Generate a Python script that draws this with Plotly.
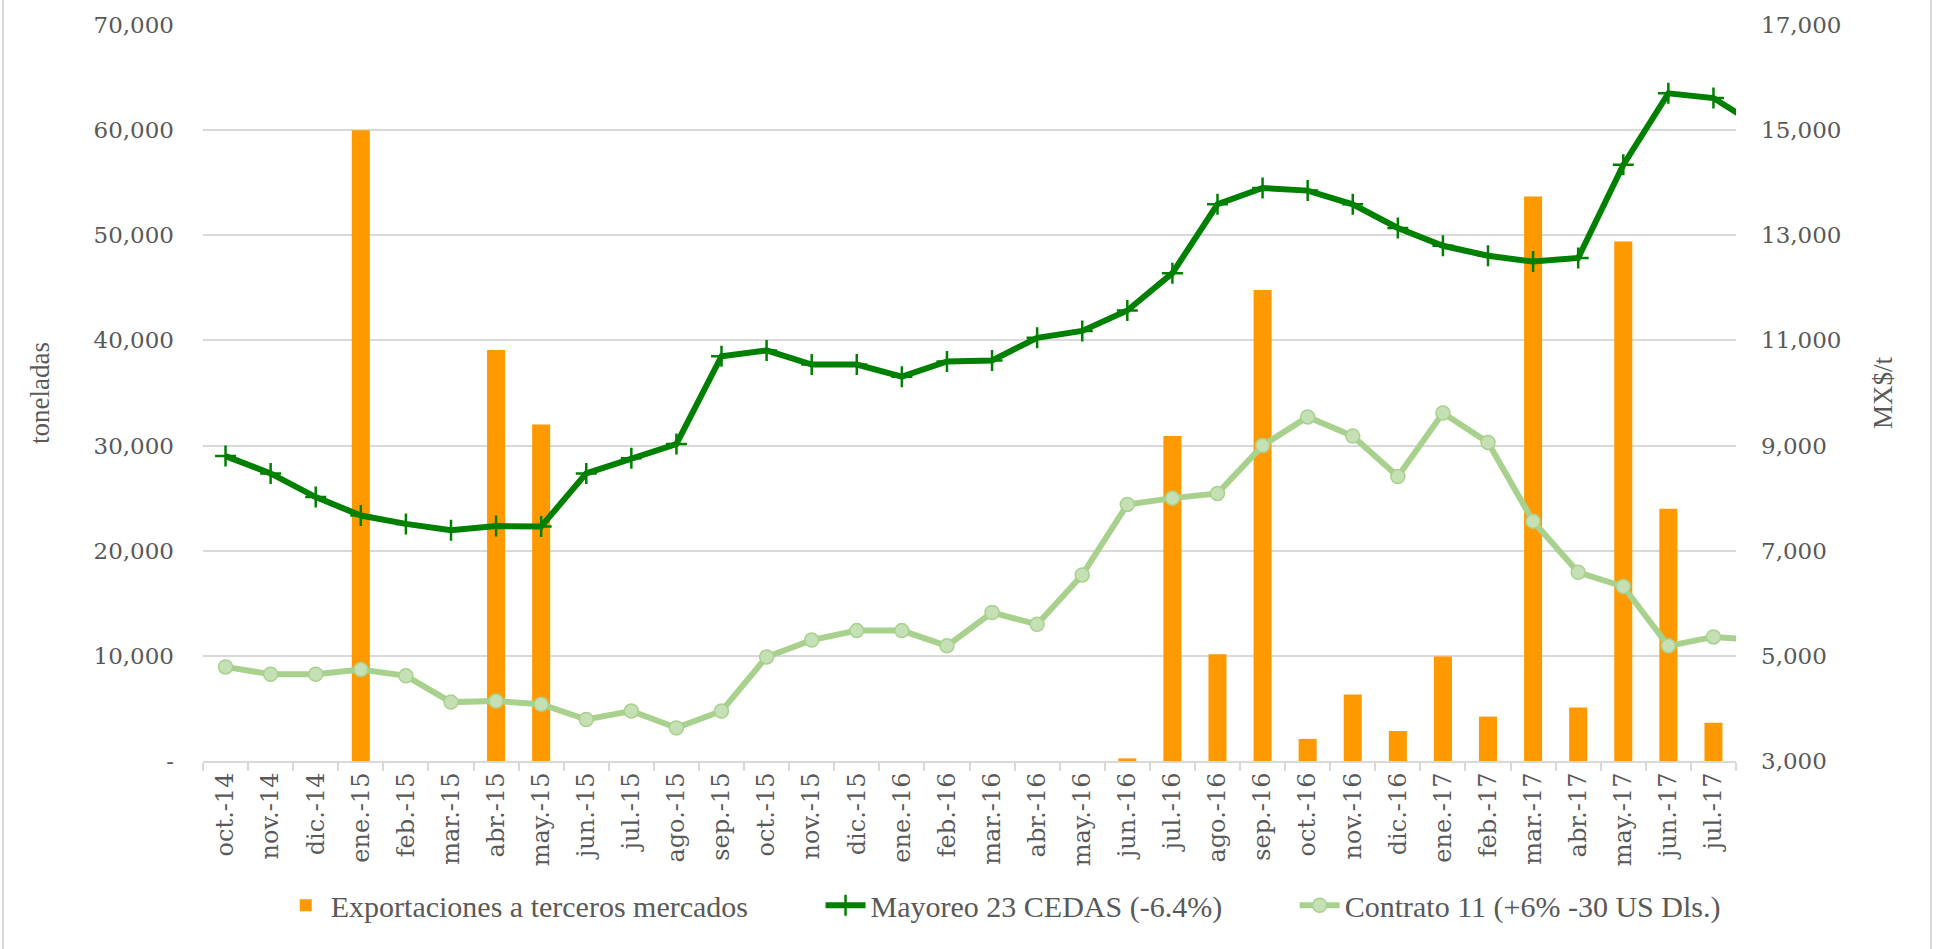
import plotly.graph_objects as go

months = ["oct.-14", "nov.-14", "dic.-14", "ene.-15", "feb.-15", "mar.-15", "abr.-15", "may.-15",
          "jun.-15", "jul.-15", "ago.-15", "sep.-15", "oct.-15", "nov.-15", "dic.-15", "ene.-16",
          "feb.-16", "mar.-16", "abr.-16", "may.-16", "jun.-16", "jul.-16", "ago.-16", "sep.-16",
          "oct.-16", "nov.-16", "dic.-16", "ene.-17", "feb.-17", "mar.-17", "abr.-17", "may.-17",
          "jun.-17", "jul.-17", "ago.-17"]

exportaciones = [None, None, None, 60000, None, None, 39100, 32000,
                 None, None, None, None, None, None, None, None,
                 None, None, None, None, 250, 30900, 10150, 44800,
                 2100, 6320, 2850, 9950, 4220, 53700, 5100, 49400,
                 24000, 3640, None]

mayoreo = [8800, 8470, 8020, 7670, 7510, 7390, 7470, 7460,
           8470, 8760, 9030, 10700, 10810, 10540, 10540, 10310,
           10600, 10620, 11050, 11180, 11570, 12280, 13590, 13900,
           13850, 13590, 13140, 12800, 12610, 12500, 12570, 14340,
           15700, 15610, 15070]

contrato = [4790, 4650, 4650, 4740, 4620, 4120, 4140, 4080,
            3790, 3950, 3630, 3950, 4980, 5300, 5480, 5480,
            5190, 5825, 5600, 6540, 7880, 8000, 8090, 9000,
            9545, 9180, 8410, 9620, 9060, 7560, 6590, 6320,
            5190, 5360, 5300]

left_ticks = [0, 10000, 20000, 30000, 40000, 50000, 60000, 70000]
left_labels = ["-", "10,000", "20,000", "30,000", "40,000", "50,000", "60,000", "70,000"]
right_ticks = [3000, 5000, 7000, 9000, 11000, 13000, 15000, 17000]

GRAY = "#595959"
GRID = "#D9D9D9"
TICKFONT = dict(family="DejaVu Serif", size=23, color=GRAY)
GAP = "\u00a0" * 9

fig = go.Figure()
fig.add_trace(go.Bar(
    x=months, y=exportaciones, name="Exportaciones a terceros mercados" + GAP,
    marker=dict(color="#FF9900", line=dict(width=0)),
))
fig.add_trace(go.Scatter(
    x=months, y=mayoreo, name="Mayoreo 23 CEDAS (-6.4%)" + GAP, yaxis="y2",
    mode="lines+markers",
    line=dict(color="#008000", width=6),
    marker=dict(symbol="cross-thin", size=15, line=dict(color="#008000", width=2.5), color="#008000"),
))
fig.add_trace(go.Scatter(
    x=months, y=contrato, name="Contrato 11 (+6% -30 US Dls.)", yaxis="y2",
    mode="lines+markers",
    line=dict(color="#A9D18E", width=6),
    marker=dict(symbol="circle", size=14, color="#C5E0B4", line=dict(color="#A9D18E", width=1.5)),
))

fig.update_layout(
    width=1938, height=949,
    margin=dict(l=203, r=202, t=25, b=188),
    paper_bgcolor="white", plot_bgcolor="white",
    bargap=0.6,
    showlegend=True,
    legend=dict(orientation="h", x=0.522, xanchor="center", y=-0.196, yanchor="middle",
                font=dict(family="Liberation Serif", size=30, color=GRAY),
                itemwidth=40, tracegroupgap=0),
    xaxis=dict(
        type="category", range=[-0.5, 33.5],
        tickangle=-90, tickfont=dict(family="DejaVu Serif", size=24, color=GRAY),
        showline=True, linecolor=GRID, linewidth=2,
        ticks="outside", tickson="boundaries", ticklen=8, tickcolor=GRID, tickwidth=2,
        showgrid=False,
    ),
    yaxis=dict(
        range=[0, 70000], tickvals=left_ticks, ticktext=left_labels,
        tickfont=TICKFONT, showgrid=True, gridcolor=GRID, gridwidth=2,
        zeroline=False, showline=False, ticks="", ticklabelstandoff=28,
    ),
    yaxis2=dict(
        range=[3000, 17000], tickvals=right_ticks, tickformat=",",
        overlaying="y", side="right",
        tickfont=TICKFONT, showgrid=False, zeroline=False, showline=False,
        ticks="", ticklabelstandoff=24,
    ),
    annotations=[
        dict(text="toneladas", xref="paper", yref="paper", x=(40 - 203) / 1533, y=0.5,
             textangle=-90, showarrow=False, xanchor="center", yanchor="middle",
             font=dict(family="Liberation Serif", size=27, color=GRAY)),
        dict(text="MX$/t", xref="paper", yref="paper", x=(1883 - 203) / 1533, y=0.5,
             textangle=-90, showarrow=False, xanchor="center", yanchor="middle",
             font=dict(family="Liberation Serif", size=27, color=GRAY)),
    ],
    shapes=[
        dict(type="line", xref="paper", yref="paper", x0=(3 - 203) / 1533, x1=(3 - 203) / 1533,
             y0=-0.4, y1=1.1, line=dict(color=GRID, width=2)),
        dict(type="line", xref="paper", yref="paper", x0=(1931 - 203) / 1533, x1=(1931 - 203) / 1533,
             y0=-0.4, y1=1.1, line=dict(color=GRID, width=2)),
    ],
)

fig.write_html("out.html", config={"displayModeBar": False},
               post_script="document.body.style.margin='0';document.body.style.overflow='hidden';")
